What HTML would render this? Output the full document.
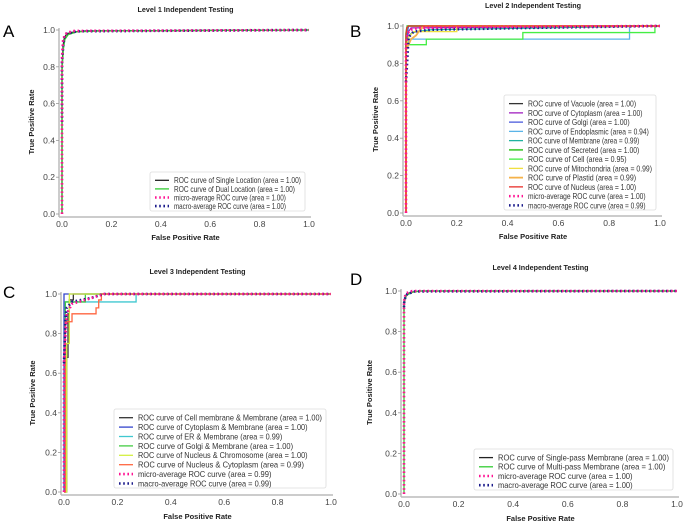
<!DOCTYPE html>
<html><head><meta charset="utf-8">
<style>
html,body{margin:0;padding:0;background:#fff;}
svg{display:block;font-family:"Liberation Sans",sans-serif;}
</style></head>
<body>
<svg id="fig" width="685" height="525" viewBox="0 0 685 525" xmlns="http://www.w3.org/2000/svg"></svg>
<script>
// ---------- Data ----------
const tickValues = [0, 0.2, 0.4, 0.6, 0.8, 1.0];
const tickLabels = ["0.0", "0.2", "0.4", "0.6", "0.8", "1.0"];

// Panel A
const aSingleFpr = [0, 0, 0.005, 0.01, 0.02, 0.05, 0.1, 1];
const aSingleTpr = [0, 0.8, 0.92, 0.96, 0.98, 0.99, 0.995, 1];
const aDualFpr = [0, 0, 0.006, 0.012, 0.025, 0.06, 0.15, 1];
const aDualTpr = [0, 0.78, 0.9, 0.95, 0.975, 0.99, 0.995, 1];
const aMicroFpr = [0, 0, 0.004, 0.01, 0.02, 0.05, 1];
const aMicroTpr = [0, 0.85, 0.94, 0.97, 0.985, 0.995, 1];
const aMacroFpr = [0, 0, 0.005, 0.01, 0.02, 0.06, 1];
const aMacroTpr = [0.5, 0.82, 0.92, 0.96, 0.98, 0.993, 1];

// Panel B
const bVacuoleFpr = [0, 0, 0.005, 1];      const bVacuoleTpr = [0, 0.95, 1, 1];
const bCytoFpr = [0, 0, 0.01, 0.02, 1];    const bCytoTpr = [0, 0.9, 0.97, 0.99, 1];
const bGolgiFpr = [0, 0, 0.01, 1];         const bGolgiTpr = [0, 0.92, 1, 1];
const bEndoFpr = [0, 0, 0.01, 0.01, 0.88, 0.88, 1]; const bEndoTpr = [0, 0.9, 0.9, 0.93, 0.93, 1, 1];
const bMemFpr = [0, 0, 0.01, 0.02, 0.04, 0.1, 1]; const bMemTpr = [0, 0.9, 0.94, 0.96, 0.97, 0.98, 1];
const bSecFpr = [0, 0, 0.005, 1];          const bSecTpr = [0, 0.96, 1, 1];
const bCellFpr = [0, 0, 0.01, 0.01, 0.08, 0.08, 0.46, 0.46, 0.98, 0.98, 1];
const bCellTpr = [0, 0.9, 0.9, 0.9, 0.9, 0.93, 0.93, 0.965, 0.965, 1, 1];
const bMitoFpr = [0, 0, 0.01, 0.03, 0.2, 0.2, 1]; const bMitoTpr = [0, 0.88, 0.94, 0.97, 0.97, 1, 1];
const bPlastFpr = [0, 0, 0.01, 0.02, 0.04, 0.05, 0.07, 1]; const bPlastTpr = [0, 0.87, 0.9, 0.93, 0.95, 0.97, 1, 1];
const bNucFpr = [0, 0, 0.003, 0.01, 1];    const bNucTpr = [0, 0.95, 0.99, 1, 1];
const bMicroFpr = [0, 0, 0.005, 0.02, 0.05, 0.3, 1]; const bMicroTpr = [0, 0.9, 0.96, 0.98, 0.99, 0.995, 1];
const bMacroFpr = [0, 0, 0.01, 0.03, 0.1, 0.5, 1]; const bMacroTpr = [0.7, 0.7, 0.94, 0.97, 0.98, 0.99, 1];

// Panel C
const cCellMemFpr = [0, 0.01, 0.01, 0.015, 0.015, 0.02, 0.02, 0.035, 0.035, 1];
const cCellMemTpr = [0, 0, 0.68, 0.68, 0.9, 0.9, 0.97, 0.97, 1, 1];
const cCytoFpr = [0, 0, 1];                const cCytoTpr = [0, 1, 1];
const cErFpr = [0, 0.005, 0.005, 0.27, 0.27, 1]; const cErTpr = [0, 0, 0.96, 0.96, 1, 1];
const cGolgiFpr = [0, 0.005, 0.005, 0.08, 0.08, 1]; const cGolgiTpr = [0, 0, 0.96, 0.96, 1, 1];
const cNucChrFpr = [0, 0.01, 0.01, 0.02, 0.02, 1]; const cNucChrTpr = [0, 0, 0.75, 0.75, 1, 1];
const cNucCytFpr = [0, 0.005, 0.005, 0.03, 0.03, 0.12, 0.12, 0.13, 0.13, 0.14, 0.14, 1];
const cNucCytTpr = [0, 0, 0.86, 0.86, 0.9, 0.9, 0.93, 0.93, 0.97, 0.97, 1, 1];
const cMicroFpr = [0, 0, 0.01, 0.03, 0.08, 0.15, 1]; const cMicroTpr = [0, 0.66, 0.9, 0.95, 0.97, 1, 1];
const cMacroFpr = [0, 0, 0.005, 0.01, 0.03, 0.1, 0.15, 1]; const cMacroTpr = [0.65, 0.65, 0.86, 0.93, 0.96, 0.98, 1, 1];

// Panel D
const dSingleFpr = [0, 0, 0.005, 0.01, 0.03, 0.06, 1]; const dSingleTpr = [0.9, 0.94, 0.97, 0.985, 0.995, 1, 1];
const dMultiFpr = [0, 0, 0.005, 0.01, 0.03, 0.06, 1];  const dMultiTpr = [0, 0.93, 0.965, 0.98, 0.993, 1, 1];
const dMicroFpr = [0, 0, 0.004, 0.01, 0.03, 1];        const dMicroTpr = [0, 0.95, 0.975, 0.99, 1, 1];
const dMacroFpr = [0, 0, 0.005, 0.012, 0.04, 1];       const dMacroTpr = [0.92, 0.94, 0.97, 0.985, 0.998, 1];

// ---------- Drawing ----------
const NS = "http://www.w3.org/2000/svg";
const fig = document.getElementById("fig");
function mk(tag, attrs, parent, text) {
  const e = document.createElementNS(NS, tag);
  for (const k in attrs) e.setAttribute(k, attrs[k]);
  if (text !== undefined) e.textContent = text;
  (parent || fig).appendChild(e);
  return e;
}
const DOT = {"stroke-dasharray": "1.6,2.6", "stroke-width": "2.6"};

function panel(p) {
  const g = mk("g", {});
  
  
  const sx = v => p.x0 + v * (p.x1 - p.x0);
  const sy = v => p.y0 - v * (p.y0 - p.y1);
  const L = mk("text", {x: p.lx, y: p.ly, "font-size": 17, fill: "#000"}, g, p.letter);
  
  
  const T = mk("text", {x: (p.x0 + p.x1) / 2, y: p.ty, "font-size": 7.2, "font-weight": "bold", "text-anchor": "middle", fill: "#222"}, g, p.title);
  
  
  const s1 = mk("line", {x1: p.x0 - 3, y1: p.y1 - 2, x2: p.x0 - 3, y2: p.y0 + 3, stroke: "#bbb", "stroke-width": 1.5}, g);
  
  
  const s2 = mk("line", {x1: p.x0 - 3, y1: p.y0 + 3, x2: p.x1 + 2, y2: p.y0 + 3, stroke: "#bbb", "stroke-width": 1.5}, g);
  
  
  tickValues.forEach((v, i) => {
    const tx = mk("text", {x: sx(v), y: p.y0 + 13, "font-size": 8.5, "text-anchor": "middle", fill: "#444"}, g, tickLabels[i]);
    
    
    const ty = mk("text", {x: p.x0 - 7, y: sy(v) + 3, "font-size": 8.5, "text-anchor": "end", fill: "#444"}, g, tickLabels[i]);
    
    
    mk("line", {x1: p.x0 - 6, y1: sy(v), x2: p.x0 - 3, y2: sy(v), stroke: "#999", "stroke-width": 0.8}, g);
  });
  const xl = mk("text", {x: (p.x0 + p.x1) / 2, y: p.xly, "font-size": 7.5, "font-weight": "bold", "text-anchor": "middle", fill: "#222"}, g, "False Positive Rate");
  
  
  const yc = (p.y0 + p.y1) / 2;
  const yl = mk("text", {x: p.ylx, y: yc, "font-size": 7.5, "font-weight": "bold", "text-anchor": "middle", fill: "#222", transform: `rotate(-90 ${p.ylx} ${yc})`}, g, "True Positive Rate");
  
  
  // series: solid lines first, then macro, then micro on top
  const solids = p.series.filter(s => !s.dot);
  const dots = p.series.filter(s => s.dot).reverse();
  solids.concat(dots).forEach(s => {
    const d = s.fpr.map((f, i) => (i ? "L" : "M") + sx(f).toFixed(2) + "," + sy(s.tpr[i]).toFixed(2)).join(" ");
    const attrs = {d: d, fill: "none", stroke: s.color, "stroke-width": s.w || 1.3};
    if (s.dot) Object.assign(attrs, DOT);
    const path = mk("path", attrs, g);
    
    
  });
  // legend
  const lg = mk("g", {}, g);
  
  
  mk("rect", {x: p.lgx, y: p.lgy, width: p.lgw, height: p.lgh, rx: 2, fill: "#fff", "fill-opacity": 0.85, stroke: "#ddd", "stroke-width": 0.8}, lg);
  p.series.forEach((s, i) => {
    const ry = p.lgy + 4 + p.rowH * (i + 0.5);
    const la = {x1: p.lgx + 5, y1: ry, x2: p.lgx + 19, y2: ry, stroke: s.color, "stroke-width": s.w || 1.3};
    if (s.dot) Object.assign(la, DOT);
    mk("line", la, lg);
    const avail = p.lgw - 24 - 4;
    const t = mk("text", {x: p.lgx + 24, y: ry + 2.9, "font-size": 8.2, fill: "#333"}, lg, s.label);
    const target = avail * s.label.length / p.maxLen;
    t.setAttribute("textLength", target.toFixed(1));
    t.setAttribute("lengthAdjust", "spacingAndGlyphs");
    
    
  });
}

const MICRO = "#ff1493", MACRO = "#1c1c8c";
function withMax(p) { p.maxLen = Math.max(...p.series.map(s => s.label.length)); return p; }

panel(withMax({name: "panel-a", letter: "A", lx: 3, ly: 37, title: "Level 1 Independent Testing", ty: 12,
  x0: 62, x1: 309, y0: 214, y1: 30, xly: 240, ylx: 34,
  lgx: 150, lgy: 172, lgw: 155, lgh: 39, rowH: 8.6,
  series: [
    {key: "single", label: "ROC curve of Single Location (area = 1.00)", color: "#222", fpr: aSingleFpr, tpr: aSingleTpr},
    {key: "dual", label: "ROC curve of Dual Location (area = 1.00)", color: "#33cc33", fpr: aDualFpr, tpr: aDualTpr},
    {key: "micro", label: "micro-average ROC curve (area = 1.00)", color: MICRO, dot: 1, fpr: aMicroFpr, tpr: aMicroTpr},
    {key: "macro", label: "macro-average ROC curve (area = 1.00)", color: MACRO, dot: 1, fpr: aMacroFpr, tpr: aMacroTpr}
  ]}));

panel(withMax({name: "panel-b", letter: "B", lx: 350, ly: 37, title: "Level 2 Independent Testing", ty: 8,
  x0: 406, x1: 660, y0: 213, y1: 26, xly: 239, ylx: 378,
  lgx: 504, lgy: 95, lgw: 152, lgh: 115, rowH: 9.25,
  series: [
    {key: "vacuole", label: "ROC curve of Vacuole (area = 1.00)", color: "#333", fpr: bVacuoleFpr, tpr: bVacuoleTpr},
    {key: "cytoplasm", label: "ROC curve of Cytoplasm (area = 1.00)", color: "#a020c0", fpr: bCytoFpr, tpr: bCytoTpr},
    {key: "golgi", label: "ROC curve of Golgi (area = 1.00)", color: "#4b5bdc", fpr: bGolgiFpr, tpr: bGolgiTpr},
    {key: "endoplasmic", label: "ROC curve of Endoplasmic (area = 0.94)", color: "#5ab4e8", fpr: bEndoFpr, tpr: bEndoTpr},
    {key: "membrane", label: "ROC curve of Membrane (area = 0.99)", color: "#20b2a0", fpr: bMemFpr, tpr: bMemTpr},
    {key: "secreted", label: "ROC curve of Secreted (area = 1.00)", color: "#55cc44", w: 1.8, fpr: bSecFpr, tpr: bSecTpr},
    {key: "cell", label: "ROC curve of Cell (area = 0.95)", color: "#44ee44", fpr: bCellFpr, tpr: bCellTpr},
    {key: "mitochondria", label: "ROC curve of Mitochondria (area = 0.99)", color: "#f0e040", fpr: bMitoFpr, tpr: bMitoTpr},
    {key: "plastid", label: "ROC curve of Plastid (area = 0.99)", color: "#f5b24a", w: 1.8, fpr: bPlastFpr, tpr: bPlastTpr},
    {key: "nucleus", label: "ROC curve of Nucleus (area = 1.00)", color: "#e8302a", fpr: bNucFpr, tpr: bNucTpr},
    {key: "micro", label: "micro-average ROC curve (area = 1.00)", color: MICRO, dot: 1, fpr: bMicroFpr, tpr: bMicroTpr},
    {key: "macro", label: "macro-average ROC curve (area = 0.99)", color: MACRO, dot: 1, fpr: bMacroFpr, tpr: bMacroTpr}
  ]}));

panel(withMax({name: "panel-c", letter: "C", lx: 3, ly: 298, title: "Level 3 Independent Testing", ty: 274,
  x0: 64, x1: 331, y0: 492, y1: 294, xly: 519, ylx: 35,
  lgx: 114, lgy: 409, lgw: 212, lgh: 79, rowH: 9.4,
  series: [
    {key: "cell-membrane", label: "ROC curve of Cell membrane & Membrane (area = 1.00)", color: "#333", fpr: cCellMemFpr, tpr: cCellMemTpr},
    {key: "cytoplasm-membrane", label: "ROC curve of Cytoplasm & Membrane (area = 1.00)", color: "#3344cc", fpr: cCytoFpr, tpr: cCytoTpr},
    {key: "er-membrane", label: "ROC curve of ER & Membrane (area = 0.99)", color: "#40c8d0", fpr: cErFpr, tpr: cErTpr},
    {key: "golgi-membrane", label: "ROC curve of Golgi & Membrane (area = 1.00)", color: "#44cc44", fpr: cGolgiFpr, tpr: cGolgiTpr},
    {key: "nucleus-chromosome", label: "ROC curve of Nucleus & Chromosome (area = 1.00)", color: "#d4f040", fpr: cNucChrFpr, tpr: cNucChrTpr},
    {key: "nucleus-cytoplasm", label: "ROC curve of Nucleus & Cytoplasm (area = 0.99)", color: "#ff6640", fpr: cNucCytFpr, tpr: cNucCytTpr},
    {key: "micro", label: "micro-average ROC curve (area = 0.99)", color: MICRO, dot: 1, fpr: cMicroFpr, tpr: cMicroTpr},
    {key: "macro", label: "macro-average ROC curve (area = 0.99)", color: MACRO, dot: 1, fpr: cMacroFpr, tpr: cMacroTpr}
  ]}));

panel(withMax({name: "panel-d", letter: "D", lx: 350, ly: 285, title: "Level 4 Independent Testing", ty: 270,
  x0: 404, x1: 677, y0: 494, y1: 291, xly: 521, ylx: 372,
  lgx: 474, lgy: 449, lgw: 199, lgh: 41, rowH: 9.2,
  series: [
    {key: "single-pass", label: "ROC curve of Single-pass Membrane (area = 1.00)", color: "#222", fpr: dSingleFpr, tpr: dSingleTpr},
    {key: "multi-pass", label: "ROC curve of Multi-pass Membrane (area = 1.00)", color: "#33cc33", fpr: dMultiFpr, tpr: dMultiTpr},
    {key: "micro", label: "micro-average ROC curve (area = 1.00)", color: MICRO, dot: 1, fpr: dMicroFpr, tpr: dMicroTpr},
    {key: "macro", label: "macro-average ROC curve (area = 1.00)", color: MACRO, dot: 1, fpr: dMacroFpr, tpr: dMacroTpr}
  ]}));
</script>
</body></html>
